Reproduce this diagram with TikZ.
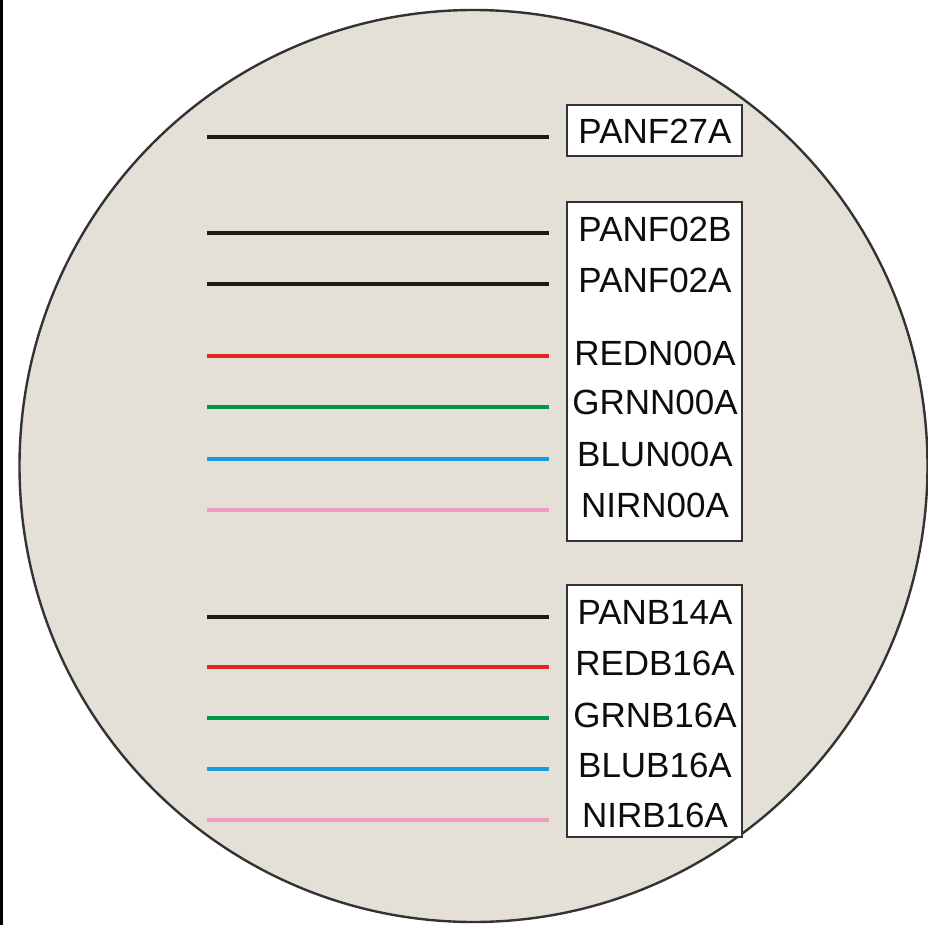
\documentclass[tikz,border=0pt]{standalone}
\usepackage{fontspec}
\setmainfont{Liberation Sans}
\usetikzlibrary{positioning}

\definecolor{disc}{RGB}{228,224,215}
\definecolor{bandblack}{RGB}{28,26,24}
\definecolor{bandred}{RGB}{222,40,38}
\definecolor{bandgreen}{RGB}{0,150,70}
\definecolor{bandblue}{RGB}{28,154,222}
\definecolor{bandpink}{RGB}{238,156,198}

\begin{document}
\begin{tikzpicture}[
  x=1pt,y=-1pt,
  band/.style={line width=4.5pt},
  frame/.style={draw=black!80,line width=2pt,fill=white,minimum width=175pt},
  lbl/.style={font=\fontsize{35}{35}\selectfont,inner sep=0pt,text=black!95}
]
\useasboundingbox (0,0) rectangle (928,925);
\fill[black] (0,0) rectangle (2.5,925);

% the disc behind the legend
\draw[fill=disc,draw=black!80,line width=2.4pt] (473.5,466) ellipse (454 and 456);

% label frames
\node[frame,minimum height=51pt] (box1) at (654.5,130.5) {};
\node[frame,minimum height=339pt] (box2) at (654.5,371.5) {};
\node[frame,minimum height=252pt] (box3) at (654.5,711) {};

% one band line and one label per row
\foreach \i/\ly/\ty/\name/\col in {
  1/137/131/PANF27A/bandblack,
  2/233/229/PANF02B/bandblack,
  3/284/280/PANF02A/bandblack,
  4/356/353/REDN00A/bandred,
  5/407/402/GRNN00A/bandgreen,
  6/459/454/BLUN00A/bandblue,
  7/510/505/NIRN00A/bandpink,
  8/617/612/PANB14A/bandblack,
  9/667/663/REDB16A/bandred,
  10/718/715/GRNB16A/bandgreen,
  11/769/765/BLUB16A/bandblue,
  12/820/815/NIRB16A/bandpink}{
  \coordinate (s\i) at (207,\ly);
  \coordinate (e\i) at (549,\ly);
  \node[lbl] (t\i) at (655,\ty) {\name};
  \draw[band,\col] (s\i) -- (e\i);
}
\end{tikzpicture}
\end{document}
